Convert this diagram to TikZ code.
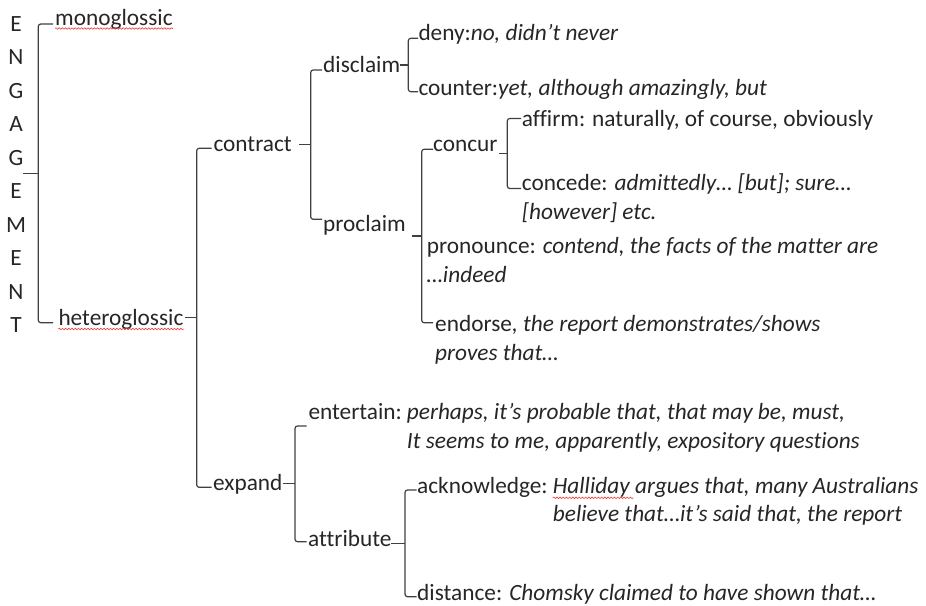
\documentclass[tikz,border=0pt]{standalone}
\usepackage{fontspec}
\setmainfont{Carlito}[Ligatures={TeX,NoCommon}]
\usetikzlibrary{decorations.pathmorphing}

\definecolor{ink}{HTML}{262626}
\definecolor{rule}{HTML}{404040}
\definecolor{spell}{HTML}{E8403A}

\tikzset{
  lbl/.style={anchor=base west, inner sep=0pt, text=ink,
    font=\fontsize{23.3}{28.5}\selectfont, align=left},
  letter/.style={anchor=base, inner sep=0pt, text=ink,
    font=\fontsize{23.3}{28.5}\selectfont},
  brace/.style={draw=rule, line width=1.2pt, rounded corners=2.5pt},
  squiggle/.style={draw=spell, line width=0.6pt, decorate,
    decoration={snake, amplitude=0.8pt, segment length=3.2pt}}
}

% A system bracket: #1 name, #2 x where the entry tick starts,
% #3 x of the stem, #4 x where the option ticks end, #5 top y, #6 bottom y
\newcommand\branch[6]{%
  \coordinate (#1-in)   at (#2,{(#5+#6)/2});
  \coordinate (#1-stem) at (#3,{(#5+#6)/2});
  \coordinate (#1-up)   at (#4,#5);
  \coordinate (#1-dn)   at (#4,#6);
  \draw[brace] (#1-up) -| (#1-stem) |- (#1-dn);
  \draw[brace] (#1-in) -- (#1-stem);
}

\begin{document}
\begin{tikzpicture}[x=1pt,y=-1pt]
\useasboundingbox (0,0) rectangle (926,605);

% vertical title
\foreach \ch [count=\i from 0] in {E,N,G,A,G,E,M,E,N,T}
  \node[letter] (t\i) at (16,{31+33.5*\i}) {\ch};

% labels (two-line labels are placed by the baseline of their last line)
\node[lbl] (mono)      at (55,25)       {monoglossic};
\node[lbl] (hetero)    at (58.3,325)    {heteroglossic};
\node[lbl] (contract)  at (213.3,151.7) {contract};
\node[lbl] (disclaim)  at (323,72.7)    {disclaim};
\node[lbl] (proclaim)  at (323,231.7)   {proclaim};
\node[lbl] (deny)      at (418.3,40)    {deny:\textit{no, didn’t never}};
\node[lbl] (counter)   at (418.3,95)    {counter:\textit{yet, although amazingly, but}};
\node[lbl] (concur)    at (433,151.7)   {concur};
\node[lbl] (affirm)    at (521.7,126.7) {affirm: naturally, of course, obviously};
\node[lbl] (concede)   at (521.7,219)   {concede: \textit{admittedly… [but]; sure…}\\\textit{[however] etc.}};
\node[lbl] (pronounce) at (426.7,282.3) {pronounce: \textit{contend, the facts of the matter are}\\\textit{…indeed}};
\node[lbl] (endorse)   at (435,360)     {endorse\textit{, the report demonstrates/shows}\\\textit{proves that…}};
\node[lbl] (expand)    at (213,490.7)   {expand};
\node[lbl] (entertain) at (308.3,419.3) {entertain:};
\node[lbl] (entex)     at (406.7,448)   {\textit{perhaps, it’s probable that, that may be, must,}\\\textit{It seems to me, apparently, expository questions}};
\node[lbl] (attribute) at (308,546.7)   {attribute};
\node[lbl] (ackn)      at (417,493.3)   {acknowledge:};
\node[lbl] (ackex)     at (552.7,521.8) {\textit{Halliday argues that, many Australians}\\\textit{believe that…it’s said that, the report}};
\node[lbl] (distance)  at (417,600)     {distance: \textit{Chomsky claimed to have shown that…}};

% system brackets
\branch{engage}{23.3}{38.3}{53}{24}{322.7}
\branch{het}{185}{196.7}{211.7}{148.3}{487.3}
\branch{con}{299}{310.7}{322}{70}{219.3}
\branch{dis}{400}{408.3}{418}{38.3}{91.7}
\branch{pro}{411.7}{421.7}{433}{149.3}{322.7}
\branch{cur}{499}{507.3}{521}{118.5}{188.5}
\branch{exp}{283}{295}{306.7}{426}{541.7}
\branch{att}{391}{405}{416.7}{490}{596.7}

% spell-check underlines
\draw[squiggle] ([yshift=-3.5pt]mono.base west) -- ([yshift=-3.5pt]mono.base east);
\draw[squiggle] ([yshift=-4pt]hetero.base west) -- ([yshift=-4pt]hetero.base east);
\draw[squiggle] ([yshift=24pt]ackex.base west) -- ++(81,0);
\end{tikzpicture}
\end{document}
